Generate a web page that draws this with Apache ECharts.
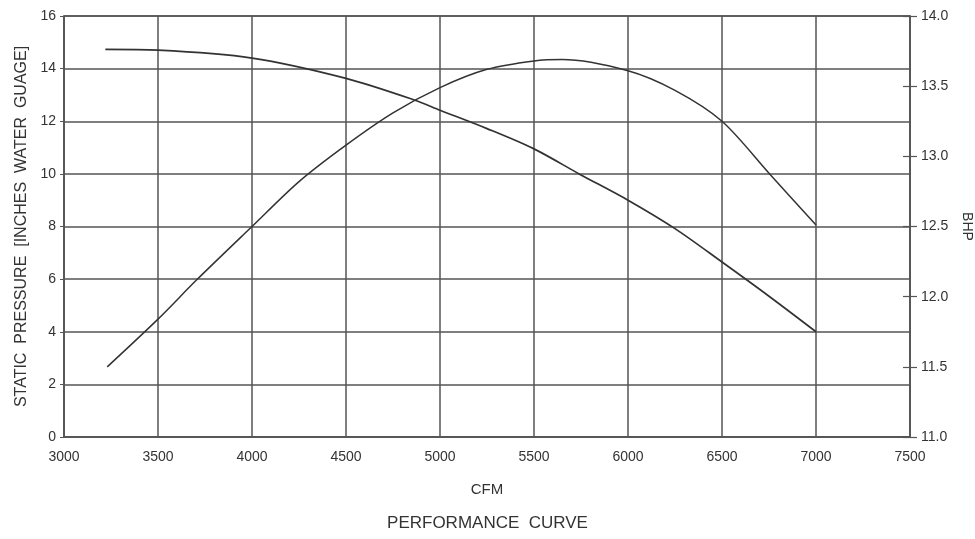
<!DOCTYPE html>
<html><head><meta charset="utf-8">
<script src="https://cdn.jsdelivr.net/npm/echarts@6/dist/echarts.min.js"></script>
<style>html,body{margin:0;padding:0;background:#fff}#c{width:975px;height:539px}</style>
</head><body><div id="c"></div>
<script>
// Data
var cfmPressure = [3220, 3500, 4000, 4500, 4867, 5000, 5250, 5500, 5745, 6000, 6250, 6500, 6750, 7000];
var staticPressure = [14.73, 14.7, 14.4, 13.63, 12.8, 12.42, 11.72, 10.95, 9.98, 9.0, 7.92, 6.65, 5.35, 4.0];
var cfmBhp = [3230, 3500, 3706, 4000, 4250, 4500, 4750, 5000, 5250, 5500, 5650, 6000, 6250, 6500, 6750, 7000];
var bhp = [11.50, 11.84, 12.12, 12.5, 12.82, 13.08, 13.31, 13.49, 13.62, 13.68, 13.69, 13.61, 13.47, 13.25, 12.88, 12.51];
var xTicks = [3000, 3500, 4000, 4500, 5000, 5500, 6000, 6500, 7000, 7500];
var leftTicks = [0, 2, 4, 6, 8, 10, 12, 14, 16];
var rightTicks = [11.0, 11.5, 12.0, 12.5, 13.0, 13.5, 14.0];

function pairs(xs, ys){ return xs.map(function(x,i){ return [x, ys[i]]; }); }

var font = 'Liberation Sans';
var ink = '#333';
var gridCol = '#555';

var chart = echarts.init(document.getElementById('c'));
chart.setOption({
  backgroundColor: '#fff',
  animation: false,
  title: {
    text: 'PERFORMANCE  CURVE', left: 'center', top: 510,
    textStyle: {fontFamily: font, fontSize: 17, fontWeight: 'normal', color: ink}
  },
  grid: {left: 64, right: 65, top: 16, bottom: 102, outerBoundsMode: 'none', containLabel: false,
    show: true, borderColor: gridCol, borderWidth: 1.5},
  xAxis: {
    type: 'value', min: xTicks[0], max: xTicks[xTicks.length-1], interval: xTicks[1]-xTicks[0],
    name: 'CFM', nameLocation: 'middle', nameGap: 45,
    nameTextStyle: {fontFamily: font, fontSize: 15, color: ink},
    axisLine: {show: true, lineStyle: {color: gridCol, width: 1.5}},
    axisTick: {show: false},
    axisLabel: {fontFamily: font, fontSize: 14, color: ink, margin: 13,
      formatter: function(v){ return xTicks.indexOf(v) >= 0 ? String(v) : ''; }},
    splitLine: {show: true, lineStyle: {color: gridCol, width: 1.5}}
  },
  yAxis: [
    {
      type: 'value', min: leftTicks[0], max: leftTicks[leftTicks.length-1], interval: 2,
      name: 'STATIC  PRESSURE  [INCHES  WATER  GUAGE]', nameLocation: 'middle', nameGap: 31, nameRotate: 90,
      nameTextStyle: {fontFamily: font, fontSize: 16, color: ink},
      axisLine: {show: true, lineStyle: {color: gridCol, width: 1.5}},
      axisTick: {show: true, length: 4, lineStyle: {color: gridCol}},
      axisLabel: {fontFamily: font, fontSize: 14, color: ink, margin: 8},
      splitLine: {show: true, lineStyle: {color: gridCol, width: 1.5}}
    },
    {
      type: 'value', position: 'right', min: rightTicks[0], max: rightTicks[rightTicks.length-1], interval: 0.5,
      name: 'BHP', nameLocation: 'middle', nameGap: 50, nameRotate: -90,
      nameTextStyle: {fontFamily: font, fontSize: 14, color: ink},
      axisLine: {show: true, lineStyle: {color: gridCol, width: 1.5}},
      axisTick: {show: true, length: 7, lineStyle: {color: gridCol, width: 1.2}},
      axisLabel: {fontFamily: font, fontSize: 14, color: ink, margin: 11,
        formatter: function(v){ return v.toFixed(1); }},
      splitLine: {show: false}
    },
    {
      type: 'value', position: 'right', min: rightTicks[0], max: rightTicks[rightTicks.length-1], interval: 0.5,
      axisLine: {show: false},
      axisTick: {show: true, inside: true, length: 7, lineStyle: {color: gridCol, width: 1.2}},
      axisLabel: {show: false},
      splitLine: {show: false}
    }
  ],
  series: [
    {
      name: 'Static Pressure', type: 'line', yAxisIndex: 0, data: pairs(cfmPressure, staticPressure),
      smooth: 0.3, symbol: 'none', lineStyle: {color: '#333', width: 1.7}
    },
    {
      name: 'BHP', type: 'line', yAxisIndex: 1, data: pairs(cfmBhp, bhp),
      smooth: 0.3, symbol: 'none', lineStyle: {color: '#333', width: 1.5}
    }
  ]
});
</script></body></html>
